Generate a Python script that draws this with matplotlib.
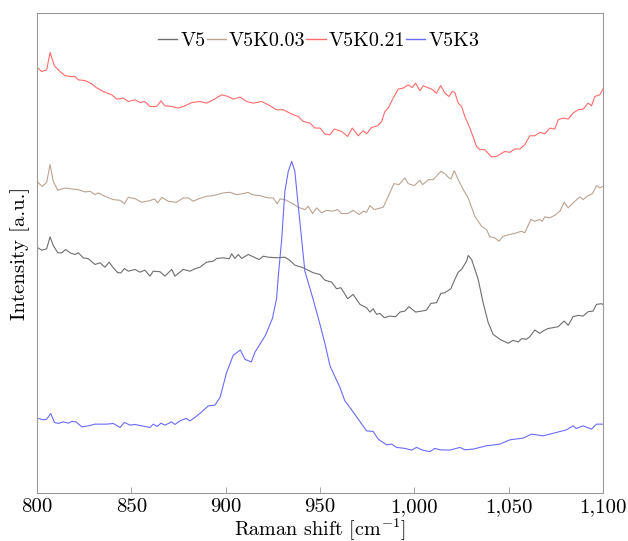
import numpy as np
import matplotlib
matplotlib.use("Agg")
from matplotlib import pyplot as plt
from matplotlib.ticker import FuncFormatter

# Raman spectra (intensity in arbitrary units)
v5_shift = [800.4, 802.5, 805.1, 806.9, 808.6, 811.0, 813.1, 815.2, 817.5, 820.1, 821.9, 824.5, 827.2,
            830.7, 833.4, 836.0, 838.2, 840.4, 842.8, 844.5, 846.3, 848.4, 851.9, 854.6, 857.2, 859.9,
            861.6, 865.2, 867.8, 871.4, 873.1, 877.5, 881.1, 883.7, 886.4, 889.9, 893.4, 895.2, 898.7,
            901.9, 903.2, 904.9, 906.7, 908.5, 912.0, 914.6, 917.8, 919.9, 922.6, 927.0, 931.4, 934.1,
            936.7, 941.1, 946.4, 950.0, 952.6, 956.2, 958.8, 961.1, 964.7, 967.6, 971.2, 974.7, 976.5,
            978.2, 980.0, 981.8, 984.1, 987.1, 990.1, 992.4, 995.0, 997.2, 1000.7, 1003.9, 1006.5,
            1008.8, 1011.8, 1014.1, 1016.2, 1019.4, 1021.5, 1023.3, 1025.1, 1027.7, 1028.6, 1030.4,
            1033.9, 1036.5, 1039.2, 1041.8, 1045.4, 1049.8, 1052.4, 1055.1, 1056.9, 1059.5, 1061.3,
            1063.9, 1066.6, 1068.3, 1070.7, 1073.6, 1076.3, 1079.5, 1081.6, 1084.2, 1086.9, 1089.5,
            1092.2, 1094.8, 1096.6, 1099.3, 1100.0]
v5_int = [245.7, 243.3, 244.7, 256.7, 248.0, 240.7, 240.7, 244.0, 240.7, 239.0, 240.7, 235.7, 234.7,
          229.0, 230.7, 226.3, 231.3, 225.7, 220.7, 220.7, 225.0, 222.3, 224.0, 221.3, 223.3, 217.3,
          222.3, 221.7, 217.3, 224.0, 217.3, 224.0, 222.3, 224.7, 226.3, 231.3, 232.3, 235.0, 235.7,
          234.7, 239.7, 235.0, 239.0, 235.0, 239.0, 236.7, 234.0, 237.3, 236.3, 235.7, 236.3, 233.0,
          228.3, 225.7, 220.7, 219.0, 213.3, 211.3, 204.7, 205.7, 194.7, 199.0, 189.0, 185.7, 181.3,
          184.7, 179.0, 180.0, 175.7, 177.3, 176.7, 181.3, 182.3, 186.7, 181.3, 182.3, 183.3,
          190.0, 190.7, 200.0, 200.7, 204.7, 214.0, 221.3, 224.0, 232.3, 238.0, 234.0,
          214.0, 190.7, 170.7, 159.0, 154.0, 150.0, 153.0, 151.3, 154.7, 154.0, 156.7,
          163.3, 160.0, 162.3, 164.7, 165.7, 166.7, 172.3, 168.0, 176.7, 178.0, 177.3,
          181.7, 182.3, 189.0, 189.7, 189.0]

v5k003_shift = [800.4, 802.8, 805.1, 806.9, 808.6, 811.0, 814.8, 818.4, 821.9, 825.4, 828.1, 830.7,
                832.5, 836.0, 840.4, 844.0, 846.3, 848.4, 851.9, 855.5, 859.9, 862.2, 864.0, 866.1,
                869.6, 874.0, 877.5, 880.2, 882.8, 885.5, 889.9, 893.4, 898.7, 902.3, 905.8, 909.3,
                912.0, 913.8, 918.2, 922.6, 925.2, 927.4, 928.8, 931.4, 935.8, 938.5, 942.0, 943.8,
                946.1, 948.2, 950.9, 953.5, 956.5, 959.4, 961.5, 964.7, 967.6, 970.8, 972.9, 974.7,
                976.5, 978.8, 983.5, 986.2, 989.2, 991.9, 995.0, 996.8, 1000.0, 1003.0, 1004.4,
                1007.4, 1010.0, 1014.1, 1016.2, 1018.4, 1019.4, 1021.2, 1023.3, 1026.0, 1028.6,
                1032.1, 1035.7, 1038.3, 1040.1, 1042.7, 1044.9, 1047.1, 1050.7, 1054.2, 1056.9,
                1058.6, 1061.8, 1063.9, 1066.6, 1067.8, 1069.2, 1071.9, 1074.5, 1077.2, 1079.5,
                1081.6, 1085.1, 1087.8, 1089.5, 1092.2, 1094.5, 1096.6, 1098.4, 1100.0]
v5k003_int = [311.3, 307.3, 311.3, 329.0, 312.3, 303.3, 305.7, 304.7, 304.0, 301.7, 302.3, 299.0,
              300.7, 297.3, 294.0, 293.3, 290.0, 296.3, 295.0, 291.3, 293.0, 294.7, 290.7, 296.3,
              292.3, 291.3, 295.7, 295.7, 292.3, 294.7, 297.3, 298.0, 300.7, 301.3, 299.0, 300.0,
              301.3, 299.0, 298.0, 295.7, 295.7, 289.7, 294.7, 294.0, 289.7, 286.3, 284.0, 287.3,
              280.0, 285.7, 280.7, 283.3, 282.3, 284.0, 280.0, 280.0, 283.3, 279.0, 282.3, 281.3,
              288.0, 284.0, 286.3, 297.3, 310.0, 309.0, 315.7, 310.0, 308.0, 313.3, 309.0,
              314.0, 314.0, 322.3, 320.0, 315.7, 314.7, 323.0, 314.0, 304.0, 295.7,
              277.3, 267.3, 264.0, 256.7, 255.7, 252.3, 257.3, 259.0, 260.7, 262.3,
              260.7, 274.0, 272.3, 274.0, 272.3, 276.7, 275.7, 278.3, 282.3, 291.3,
              285.7, 292.3, 296.7, 294.0, 298.0, 300.0, 308.0, 305.7, 307.3]

v5k021_shift = [800.4, 802.5, 805.1, 806.9, 809.2, 812.2, 814.8, 817.5, 820.1, 821.9, 825.4, 829.0,
                831.6, 835.1, 839.6, 842.2, 845.7, 848.4, 851.9, 854.6, 857.2, 859.9, 863.4, 865.7,
                867.8, 871.4, 874.9, 878.4, 882.0, 886.4, 889.9, 893.4, 897.9, 901.4, 904.0, 907.6,
                911.1, 914.6, 919.1, 922.6, 927.0, 930.5, 935.8, 938.5, 941.1, 944.7, 947.3, 950.0,
                952.6, 955.3, 957.6, 961.5, 964.7, 967.1, 970.3, 972.9, 974.7, 977.4, 980.6, 982.7,
                984.4, 986.2, 988.8, 991.5, 994.1, 996.8, 998.9, 1000.7, 1003.0, 1004.7, 1009.2,
                1011.8, 1014.0, 1016.2, 1018.4, 1020.1, 1021.5, 1023.3, 1025.1, 1026.8, 1029.5,
                1033.0, 1034.8, 1037.4, 1041.0, 1043.6, 1048.0, 1050.7, 1053.3, 1056.0, 1058.6,
                1061.3, 1063.9, 1066.6, 1069.2, 1071.9, 1074.5, 1076.3, 1078.9, 1081.6, 1084.2,
                1086.9, 1089.5, 1092.2, 1094.0, 1095.7, 1098.4, 1100.0]
v5k021_int = [425.7, 422.3, 424.0, 441.5, 428.0, 422.3, 418.3, 417.3, 417.3, 414.0, 413.3, 410.0,
              406.0, 402.3, 399.0, 394.7, 395.7, 392.3, 394.0, 391.3, 392.3, 387.3, 387.3, 393.0,
              388.0, 387.3, 385.7, 388.0, 391.3, 392.3, 390.7, 394.0, 399.0, 397.3, 394.7, 396.7,
              392.3, 390.7, 392.3, 389.0, 384.0, 384.0, 379.0, 377.3, 372.3, 370.7, 365.7, 365.7,
              359.7, 359.0, 364.7, 362.3, 357.3, 365.7, 358.0, 363.0, 360.0, 366.3, 368.0, 372.3,
              382.3, 385.7, 395.7, 404.7, 405.7, 409.0, 406.3, 410.7, 403.0, 408.0, 404.7,
              400.7, 408.3, 400.7, 397.3, 402.3, 401.3, 390.7, 387.3, 377.3, 365.7,
              347.3, 344.0, 344.0, 336.7, 337.3, 342.3, 341.3, 344.7, 344.7, 349.0,
              358.0, 358.0, 361.3, 360.0, 365.7, 364.7, 374.0, 375.7, 374.7, 380.7,
              384.0, 384.7, 390.7, 388.0, 397.3, 399.0, 404.7]

v5k3_shift = [800.2, 803.3, 805.1, 807.3, 809.2, 811.3, 813.9, 816.6, 818.4, 820.7, 823.7, 827.2,
              830.7, 836.9, 840.4, 844.0, 846.3, 849.3, 851.9, 855.5, 859.9, 861.6, 863.8, 865.7,
              867.8, 871.4, 873.1, 875.8, 879.0, 881.1, 883.7, 887.3, 890.8, 894.3, 897.0, 900.5,
              904.0, 907.8, 910.2, 913.6, 915.5, 921.1, 924.8, 927.0, 927.9, 929.7, 931.4, 933.2,
              935.0, 936.7, 938.5, 940.3, 942.0, 946.4, 950.0, 952.6, 955.3, 960.6, 963.2, 965.9,
              970.3, 974.7, 978.2, 980.9, 985.3, 988.0, 990.6, 995.0, 998.6, 1001.2, 1004.7,
              1008.3, 1010.9, 1013.6, 1018.9, 1024.2, 1026.8, 1031.2, 1038.3, 1045.4, 1050.7,
              1057.7, 1062.2, 1068.3, 1075.4, 1080.7, 1084.2, 1086.0, 1089.5, 1094.0, 1096.6,
              1100.0]
v5k3_int = [75.0, 73.3, 74.0, 79.7, 70.7, 69.7, 71.3, 70.0, 71.7, 71.3, 66.3, 67.3,
            69.0, 69.0, 69.7, 65.7, 70.7, 68.0, 68.7, 67.3, 65.7, 69.0, 66.7, 70.0,
            68.0, 71.3, 68.7, 72.3, 74.7, 72.3, 75.7, 81.3, 87.3, 88.0, 95.7, 120.7,
            138.0, 143.3, 134.0, 131.3, 141.0, 158.0, 175.0, 195.0, 217.3, 254.0, 302.3, 322.3,
            332.3, 322.3, 287.3, 254.0, 222.3, 194.0, 169.0, 150.0, 127.5, 105.7, 92.3, 85.7,
            74.0, 62.3, 61.7, 54.0, 48.3, 49.0, 45.7, 44.7, 43.0, 45.7, 42.8,
            41.5, 44.7, 43.3, 43.0, 45.7, 43.3, 44.0, 47.3, 49.0, 53.3,
            55.0, 59.0, 57.3, 60.7, 63.3, 67.3, 64.7, 67.3, 64.0, 69.0,
            69.0]

labels = ["V5", "V5K0.03", "V5K0.21", "V5K3"]
colors = ["#6e6e6e", "#bba392", "#ff6b6b", "#6b6bff"]
xticks = [800, 850, 900, 950, 1000, 1050, 1100]

plt.rcParams["font.family"] = ["cmr10", "DejaVu Serif"]
plt.rcParams["mathtext.fontset"] = "cm"
plt.rcParams["axes.formatter.use_mathtext"] = True

fig = plt.figure(figsize=(6.28, 5.41), dpi=100)
ax = fig.add_axes([0.059, 0.0887, 0.901, 0.8873])

series = [(v5_shift, v5_int), (v5k003_shift, v5k003_int),
          (v5k021_shift, v5k021_int), (v5k3_shift, v5k3_int)]
for (xs, ys), lab, col in zip(series, labels, colors):
    ax.plot(xs, ys, color=col, lw=0.8, label=lab)

ax.set_xlim(800, 1100)
ax.set_ylim(0, 481)
ax.set_xticks(xticks)
ax.xaxis.set_major_formatter(FuncFormatter(lambda v, p: f"{int(v):,}"))
ax.set_yticks([])
ax.tick_params(axis="x", direction="in", length=4, width=0.6, color="#999999",
               labelsize=15, pad=4)
for sp in ax.spines.values():
    sp.set_color("#999999")
    sp.set_linewidth(0.8)

ax.set_xlabel("Raman shift [cm$^{-1}$]", fontsize=14.5, labelpad=0)
ax.set_ylabel("Intensity [a.u.]", fontsize=15, labelpad=5)

leg = ax.legend(loc="upper center", bbox_to_anchor=(0.498, 0.986), ncol=4, frameon=False,
                fontsize=14.5, handlelength=0.95, handletextpad=0.15, columnspacing=0.05,
                borderaxespad=0.2)
for h in leg.get_lines():
    h.set_linewidth(1.0)

fig.savefig("out.png", dpi=100)
